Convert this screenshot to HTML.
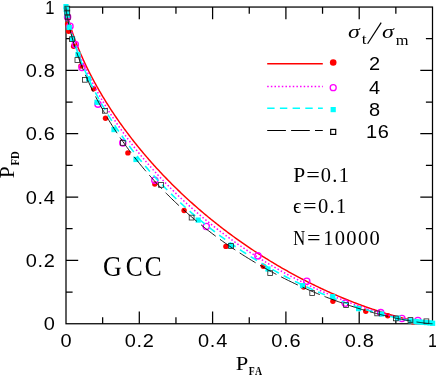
<!DOCTYPE html>
<html><head><meta charset="utf-8"><title>plot</title>
<style>html,body{margin:0;padding:0;background:#fff;}svg{display:block;will-change:transform;}text{font-family:"Liberation Sans",sans-serif;fill:#000;}.s{font-family:"Liberation Serif",serif;}</style></head><body>
<svg width="436" height="376" viewBox="0 0 436 376">
<rect width="436" height="376" fill="#fff"/>
<g stroke="#000" stroke-width="1.25" fill="none">
<rect x="66.0" y="7.05" width="366.5" height="316.7"/>
<path d="M102.65,323.75 v-6.6 M102.65,7.05 v6.6 M66.0,292.08 h6.6 M432.5,292.08 h-6.6 M139.30,323.75 v-12.2 M139.30,7.05 v12.2 M66.0,260.41 h12.2 M432.5,260.41 h-12.2 M175.95,323.75 v-6.6 M175.95,7.05 v6.6 M66.0,228.74 h6.6 M432.5,228.74 h-6.6 M212.60,323.75 v-12.2 M212.60,7.05 v12.2 M66.0,197.07 h12.2 M432.5,197.07 h-12.2 M249.25,323.75 v-6.6 M249.25,7.05 v6.6 M66.0,165.40 h6.6 M432.5,165.40 h-6.6 M285.90,323.75 v-12.2 M285.90,7.05 v12.2 M66.0,133.73 h12.2 M432.5,133.73 h-12.2 M322.55,323.75 v-6.6 M322.55,7.05 v6.6 M66.0,102.06 h6.6 M432.5,102.06 h-6.6 M359.20,323.75 v-12.2 M359.20,7.05 v12.2 M66.0,70.39 h12.2 M432.5,70.39 h-12.2 M395.85,323.75 v-6.6 M395.85,7.05 v6.6 M66.0,38.72 h6.6 M432.5,38.72 h-6.6"/>
</g>
<text transform="translate(66.40,346.90) scale(1.11,1)" font-family="Liberation Sans, sans-serif" font-size="18" text-anchor="middle" letter-spacing="0.65">0</text>
<text transform="translate(55.60,330.35) scale(1.11,1)" font-family="Liberation Sans, sans-serif" font-size="18" text-anchor="end" letter-spacing="0.65">0</text>
<text transform="translate(139.70,346.90) scale(1.11,1)" font-family="Liberation Sans, sans-serif" font-size="18" text-anchor="middle" letter-spacing="0.65">0.2</text>
<text transform="translate(55.60,267.01) scale(1.11,1)" font-family="Liberation Sans, sans-serif" font-size="18" text-anchor="end" letter-spacing="0.65">0.2</text>
<text transform="translate(213.00,346.90) scale(1.11,1)" font-family="Liberation Sans, sans-serif" font-size="18" text-anchor="middle" letter-spacing="0.65">0.4</text>
<text transform="translate(55.60,203.67) scale(1.11,1)" font-family="Liberation Sans, sans-serif" font-size="18" text-anchor="end" letter-spacing="0.65">0.4</text>
<text transform="translate(286.30,346.90) scale(1.11,1)" font-family="Liberation Sans, sans-serif" font-size="18" text-anchor="middle" letter-spacing="0.65">0.6</text>
<text transform="translate(55.60,140.33) scale(1.11,1)" font-family="Liberation Sans, sans-serif" font-size="18" text-anchor="end" letter-spacing="0.65">0.6</text>
<text transform="translate(359.60,346.90) scale(1.11,1)" font-family="Liberation Sans, sans-serif" font-size="18" text-anchor="middle" letter-spacing="0.65">0.8</text>
<text transform="translate(55.60,76.99) scale(1.11,1)" font-family="Liberation Sans, sans-serif" font-size="18" text-anchor="end" letter-spacing="0.65">0.8</text>
<text transform="translate(432.90,346.90) scale(0.92,1)" font-family="Liberation Sans, sans-serif" font-size="18" text-anchor="middle" letter-spacing="0.65">1</text>
<text transform="translate(55.00,13.65) scale(0.92,1)" font-family="Liberation Sans, sans-serif" font-size="18" text-anchor="end" letter-spacing="0.65">1</text>
<text transform="translate(235.75,370) scale(1.146,1)" class="s" font-size="19.7">P</text>
<text transform="translate(248.83,375.0) scale(0.747,1)" class="s" font-weight="bold" font-size="13" letter-spacing="1.2">FA</text>
<g transform="translate(0,0) rotate(-90)">
<text transform="translate(-178.21,13.8) scale(1.051,1)" class="s" font-size="20.3">P</text>
<text transform="translate(-165.58,19.1) scale(0.820,1)" class="s" font-weight="bold" font-size="13">FD</text>
</g>
<text transform="translate(293.18,181.8) scale(1.077,1)" class="s" font-size="20">P</text>
<text transform="translate(306.20,181.8) scale(1.203,1)" class="s" font-size="20">=</text>
<text transform="translate(320.72,181.8) scale(1.022,1)" class="s" font-size="20" letter-spacing="1.3">0.1</text>
<text transform="translate(293.02,213.2) scale(0.955,1)" class="s" font-size="21.5">ϵ</text>
<text transform="translate(302.90,213) scale(1.203,1)" class="s" font-size="20">=</text>
<text transform="translate(317.92,213) scale(1.026,1)" class="s" font-size="20" letter-spacing="1.3">0.1</text>
<text transform="translate(293.32,244.8) scale(0.828,1)" class="s" font-size="20">N</text>
<text transform="translate(307.10,244.8) scale(1.203,1)" class="s" font-size="20">=</text>
<text transform="translate(323.20,244.8) scale(1.025,1)" class="s" font-size="20" letter-spacing="1.3">10000</text>
<text transform="translate(102.93,276.2) scale(0.893,1)" class="s" font-size="29.3">G</text>
<text transform="translate(125.66,276.2) scale(0.867,1)" class="s" font-size="29.3">C</text>
<text transform="translate(144.66,276.2) scale(0.867,1)" class="s" font-size="29.3">C</text>
<text transform="translate(348.09,38.3) scale(1.268,1)" class="s" font-style="italic" font-size="18.8">σ</text>
<text transform="translate(361.83,43.9) scale(1.170,1)" class="s" font-size="15">t</text>
<path d="M367.6,43.8 L381.2,22.6" stroke="#000" stroke-width="1.2"/>
<text transform="translate(381.88,38.3) scale(1.278,1)" class="s" font-style="italic" font-size="18.8">σ</text>
<text transform="translate(395.65,45.0) scale(1.176,1)" class="s" font-size="14">m</text>
<text transform="translate(374.80,69.60) scale(1.11,1)" font-family="Liberation Sans, sans-serif" font-size="18" text-anchor="middle" letter-spacing="0.65">2</text>
<text transform="translate(374.80,94.20) scale(1.11,1)" font-family="Liberation Sans, sans-serif" font-size="18" text-anchor="middle" letter-spacing="0.65">4</text>
<text transform="translate(374.80,116.00) scale(1.11,1)" font-family="Liberation Sans, sans-serif" font-size="18" text-anchor="middle" letter-spacing="0.65">8</text>
<text transform="translate(377.80,138.00) scale(1.11,1)" font-family="Liberation Sans, sans-serif" font-size="18" text-anchor="middle" letter-spacing="0.65">16</text>
<path d="M267.2,63.7 H322.8" stroke="#ff0000" stroke-width="1.45" fill="none"/>
<path d="M267.2,86.4 H322.8" stroke="#ff00ff" stroke-width="1.5" stroke-dasharray="1.5 2.15" fill="none"/>
<path d="M267.2,108.3 H322.8" stroke="#00ffff" stroke-width="1.6" stroke-dasharray="7.4 5.3" fill="none"/>
<path d="M267.2,130.5 H322.8" stroke="#000000" stroke-width="1.15" stroke-dasharray="18.7 5.2" fill="none"/>
<path d="M66.00,7.05 L66.00,7.05 L66.01,7.14 L66.02,7.32 L66.05,7.59 L66.09,7.92 L66.14,8.30 L66.20,8.73 L66.28,9.21 L66.36,9.73 L66.46,10.30 L66.57,10.89 L66.69,11.53 L66.82,12.19 L66.96,12.89 L67.11,13.61 L67.28,14.37 L67.45,15.15 L67.64,15.96 L67.84,16.79 L68.05,17.64 L68.27,18.52 L68.50,19.42 L68.74,20.34 L69.00,21.29 L69.26,22.25 L69.54,23.23 L69.83,24.23 L70.13,25.24 L70.44,26.28 L70.76,27.33 L71.09,28.39 L71.43,29.47 L71.79,30.57 L72.15,31.68 L72.53,32.80 L72.91,33.94 L73.31,35.09 L73.72,36.26 L74.14,37.43 L74.57,38.62 L75.01,39.82 L75.47,41.03 L75.93,42.25 L76.40,43.49 L76.89,44.73 L77.38,45.98 L77.89,47.24 L78.41,48.51 L78.93,49.79 L79.47,51.08 L80.02,52.38 L80.58,53.68 L81.15,54.99 L81.73,56.31 L82.32,57.64 L82.92,58.97 L83.53,60.31 L84.15,61.66 L84.78,63.01 L85.42,64.37 L86.07,65.74 L86.73,67.11 L87.40,68.48 L88.09,69.86 L88.78,71.25 L89.48,72.64 L90.19,74.03 L90.91,75.43 L91.64,76.83 L92.39,78.24 L93.14,79.65 L93.90,81.06 L94.67,82.48 L95.45,83.90 L96.24,85.32 L97.03,86.75 L97.84,88.18 L98.66,89.61 L99.49,91.04 L100.32,92.47 L101.17,93.91 L102.02,95.35 L102.89,96.79 L103.76,98.23 L104.64,99.67 L105.53,101.12 L106.43,102.56 L107.34,104.01 L108.26,105.45 L109.18,106.90 L110.12,108.35 L111.06,109.79 L112.01,111.24 L112.97,112.69 L113.94,114.13 L114.92,115.58 L115.90,117.03 L116.90,118.47 L117.90,119.92 L118.91,121.36 L119.93,122.81 L120.95,124.25 L121.99,125.69 L123.03,127.13 L124.08,128.57 L125.14,130.01 L126.20,131.44 L127.28,132.88 L128.36,134.31 L129.45,135.74 L130.54,137.17 L131.64,138.60 L132.75,140.02 L133.87,141.44 L135.00,142.86 L136.13,144.28 L137.27,145.69 L138.41,147.10 L139.56,148.51 L140.72,149.92 L141.89,151.32 L143.06,152.72 L144.24,154.12 L145.43,155.51 L146.62,156.90 L147.82,158.29 L149.02,159.67 L150.23,161.05 L151.45,162.43 L152.67,163.80 L153.90,165.17 L155.14,166.54 L156.38,167.90 L157.62,169.25 L158.88,170.61 L160.14,171.96 L161.40,173.30 L162.67,174.64 L163.94,175.98 L165.22,177.31 L166.51,178.63 L167.80,179.96 L169.09,181.27 L170.39,182.59 L171.70,183.90 L173.01,185.20 L174.32,186.50 L175.64,187.79 L176.96,189.08 L178.29,190.36 L179.62,191.64 L180.96,192.91 L182.30,194.18 L183.65,195.45 L185.00,196.70 L186.35,197.96 L187.71,199.20 L189.07,200.44 L190.43,201.68 L191.80,202.91 L193.17,204.13 L194.55,205.35 L195.93,206.57 L197.31,207.77 L198.69,208.98 L200.08,210.17 L201.47,211.36 L202.87,212.55 L204.26,213.72 L205.66,214.90 L207.07,216.06 L208.47,217.22 L209.88,218.38 L211.29,219.52 L212.70,220.67 L214.12,221.80 L215.54,222.93 L216.96,224.05 L218.38,225.17 L219.80,226.28 L221.22,227.39 L222.65,228.48 L224.08,229.57 L225.51,230.66 L226.94,231.74 L228.37,232.81 L229.81,233.88 L231.24,234.93 L232.68,235.99 L234.12,237.03 L235.56,238.07 L236.99,239.10 L238.43,240.13 L239.88,241.15 L241.32,242.16 L242.76,243.17 L244.20,244.17 L245.64,245.16 L247.09,246.15 L248.53,247.13 L249.97,248.10 L251.41,249.06 L252.86,250.02 L254.30,250.98 L255.74,251.92 L257.18,252.86 L258.62,253.79 L260.07,254.72 L261.51,255.63 L262.94,256.55 L264.38,257.45 L265.82,258.35 L267.26,259.24 L268.69,260.12 L270.13,261.00 L271.56,261.87 L272.99,262.73 L274.42,263.59 L275.85,264.44 L277.28,265.28 L278.70,266.11 L280.12,266.94 L281.54,267.76 L282.96,268.58 L284.38,269.39 L285.80,270.19 L287.21,270.98 L288.62,271.77 L290.03,272.55 L291.43,273.32 L292.84,274.09 L294.24,274.85 L295.63,275.60 L297.03,276.35 L298.42,277.09 L299.81,277.82 L301.19,278.54 L302.57,279.26 L303.95,279.97 L305.33,280.68 L306.70,281.38 L308.07,282.07 L309.43,282.75 L310.79,283.43 L312.15,284.10 L313.50,284.77 L314.85,285.42 L316.20,286.07 L317.54,286.72 L318.88,287.36 L320.21,287.99 L321.54,288.61 L322.86,289.23 L324.18,289.84 L325.49,290.44 L326.80,291.04 L328.11,291.63 L329.41,292.22 L330.70,292.80 L331.99,293.37 L333.28,293.93 L334.56,294.49 L335.83,295.04 L337.10,295.59 L338.36,296.13 L339.62,296.66 L340.87,297.19 L342.12,297.71 L343.36,298.22 L344.60,298.73 L345.83,299.23 L347.05,299.73 L348.27,300.22 L349.48,300.70 L350.68,301.17 L351.88,301.65 L353.07,302.11 L354.26,302.57 L355.44,303.02 L356.61,303.47 L357.78,303.91 L358.94,304.34 L360.09,304.77 L361.23,305.19 L362.37,305.61 L363.50,306.02 L364.63,306.42 L365.75,306.82 L366.86,307.21 L367.96,307.60 L369.05,307.98 L370.14,308.36 L371.22,308.73 L372.30,309.09 L373.36,309.45 L374.42,309.81 L375.47,310.15 L376.51,310.50 L377.55,310.83 L378.57,311.17 L379.59,311.49 L380.60,311.81 L381.60,312.13 L382.60,312.44 L383.58,312.74 L384.56,313.04 L385.53,313.34 L386.49,313.63 L387.44,313.91 L388.38,314.19 L389.32,314.47 L390.24,314.73 L391.16,315.00 L392.07,315.26 L392.97,315.51 L393.86,315.76 L394.74,316.01 L395.61,316.25 L396.48,316.48 L397.33,316.71 L398.18,316.94 L399.01,317.16 L399.84,317.38 L400.66,317.59 L401.47,317.80 L402.26,318.00 L403.05,318.20 L403.83,318.39 L404.60,318.58 L405.36,318.77 L406.11,318.95 L406.86,319.13 L407.59,319.30 L408.31,319.47 L409.02,319.64 L409.72,319.80 L410.41,319.95 L411.10,320.11 L411.77,320.26 L412.43,320.40 L413.08,320.54 L413.72,320.68 L414.35,320.81 L414.97,320.94 L415.58,321.07 L416.18,321.19 L416.77,321.31 L417.35,321.43 L417.92,321.54 L418.48,321.65 L419.03,321.75 L419.57,321.86 L420.09,321.95 L420.61,322.05 L421.12,322.14 L421.61,322.23 L422.10,322.32 L422.57,322.40 L423.03,322.48 L423.49,322.56 L423.93,322.63 L424.36,322.70 L424.78,322.77 L425.19,322.83 L425.59,322.90 L425.97,322.96 L426.35,323.01 L426.71,323.07 L427.07,323.12 L427.41,323.17 L427.74,323.22 L428.06,323.26 L428.37,323.30 L428.67,323.34 L428.96,323.38 L429.24,323.42 L429.50,323.45 L429.76,323.48 L430.00,323.51 L430.23,323.54 L430.45,323.56 L430.66,323.59 L430.86,323.61 L431.05,323.63 L431.22,323.64 L431.39,323.66 L431.54,323.68 L431.68,323.69 L431.81,323.70 L431.93,323.71 L432.04,323.72 L432.14,323.73 L432.22,323.73 L432.30,323.74 L432.36,323.74 L432.41,323.75 L432.45,323.75 L432.48,323.75 L432.49,323.75 L432.50,323.75 L432.50,323.75" stroke="#ff0000" stroke-width="1.45" fill="none" stroke-linejoin="round"/>
<circle cx="67.6" cy="24" r="2.7" fill="#ff0000"/><circle cx="68.6" cy="31.3" r="2.7" fill="#ff0000"/><circle cx="73.6" cy="46.3" r="2.7" fill="#ff0000"/><circle cx="81" cy="66" r="2.7" fill="#ff0000"/><circle cx="93.6" cy="88.8" r="2.7" fill="#ff0000"/><circle cx="105.5" cy="118.3" r="2.7" fill="#ff0000"/><circle cx="127.9" cy="152.9" r="2.7" fill="#ff0000"/><circle cx="154.8" cy="184" r="2.7" fill="#ff0000"/><circle cx="184.1" cy="210.5" r="2.7" fill="#ff0000"/><circle cx="225.9" cy="246.4" r="2.7" fill="#ff0000"/><circle cx="263.3" cy="266.2" r="2.7" fill="#ff0000"/><circle cx="303.6" cy="287.1" r="2.7" fill="#ff0000"/><circle cx="332.9" cy="301.3" r="2.7" fill="#ff0000"/><circle cx="365.8" cy="311.2" r="2.7" fill="#ff0000"/><circle cx="387.8" cy="315.8" r="2.7" fill="#ff0000"/><circle cx="413.1" cy="321.9" r="2.7" fill="#ff0000"/>
<circle cx="333.2" cy="62.5" r="3.3" fill="#ff0000"/>
<path d="M66.00,7.05 L66.00,7.05 L66.01,7.15 L66.02,7.37 L66.05,7.67 L66.09,8.04 L66.14,8.47 L66.20,8.95 L66.28,9.49 L66.36,10.07 L66.46,10.69 L66.57,11.34 L66.69,12.04 L66.82,12.77 L66.96,13.53 L67.11,14.32 L67.28,15.15 L67.45,15.99 L67.64,16.87 L67.84,17.77 L68.05,18.70 L68.27,19.65 L68.50,20.62 L68.74,21.61 L69.00,22.62 L69.26,23.65 L69.54,24.71 L69.83,25.78 L70.13,26.86 L70.44,27.97 L70.76,29.09 L71.09,30.22 L71.43,31.38 L71.79,32.54 L72.15,33.72 L72.53,34.92 L72.91,36.12 L73.31,37.34 L73.72,38.57 L74.14,39.82 L74.57,41.07 L75.01,42.34 L75.47,43.62 L75.93,44.90 L76.40,46.20 L76.89,47.51 L77.38,48.82 L77.89,50.15 L78.41,51.48 L78.93,52.82 L79.47,54.17 L80.02,55.53 L80.58,56.89 L81.15,58.26 L81.73,59.64 L82.32,61.02 L82.92,62.41 L83.53,63.81 L84.15,65.21 L84.78,66.62 L85.42,68.03 L86.07,69.45 L86.73,70.87 L87.40,72.30 L88.09,73.73 L88.78,75.16 L89.48,76.60 L90.19,78.04 L90.91,79.49 L91.64,80.94 L92.39,82.39 L93.14,83.84 L93.90,85.30 L94.67,86.76 L95.45,88.22 L96.24,89.69 L97.03,91.15 L97.84,92.62 L98.66,94.09 L99.49,95.56 L100.32,97.03 L101.17,98.51 L102.02,99.98 L102.89,101.46 L103.76,102.93 L104.64,104.41 L105.53,105.88 L106.43,107.36 L107.34,108.84 L108.26,110.31 L109.18,111.79 L110.12,113.26 L111.06,114.74 L112.01,116.21 L112.97,117.68 L113.94,119.16 L114.92,120.63 L115.90,122.10 L116.90,123.57 L117.90,125.04 L118.91,126.50 L119.93,127.97 L120.95,129.43 L121.99,130.89 L123.03,132.35 L124.08,133.80 L125.14,135.26 L126.20,136.71 L127.28,138.16 L128.36,139.60 L129.45,141.05 L130.54,142.49 L131.64,143.93 L132.75,145.36 L133.87,146.80 L135.00,148.23 L136.13,149.65 L137.27,151.08 L138.41,152.50 L139.56,153.91 L140.72,155.32 L141.89,156.73 L143.06,158.14 L144.24,159.54 L145.43,160.94 L146.62,162.33 L147.82,163.72 L149.02,165.10 L150.23,166.49 L151.45,167.86 L152.67,169.23 L153.90,170.60 L155.14,171.97 L156.38,173.33 L157.62,174.68 L158.88,176.03 L160.14,177.37 L161.40,178.71 L162.67,180.05 L163.94,181.38 L165.22,182.70 L166.51,184.02 L167.80,185.34 L169.09,186.65 L170.39,187.95 L171.70,189.25 L173.01,190.55 L174.32,191.83 L175.64,193.12 L176.96,194.39 L178.29,195.67 L179.62,196.93 L180.96,198.19 L182.30,199.45 L183.65,200.70 L185.00,201.94 L186.35,203.18 L187.71,204.41 L189.07,205.63 L190.43,206.85 L191.80,208.07 L193.17,209.27 L194.55,210.47 L195.93,211.67 L197.31,212.86 L198.69,214.04 L200.08,215.22 L201.47,216.39 L202.87,217.55 L204.26,218.71 L205.66,219.86 L207.07,221.01 L208.47,222.14 L209.88,223.28 L211.29,224.40 L212.70,225.52 L214.12,226.63 L215.54,227.74 L216.96,228.84 L218.38,229.93 L219.80,231.02 L221.22,232.10 L222.65,233.17 L224.08,234.24 L225.51,235.29 L226.94,236.35 L228.37,237.39 L229.81,238.43 L231.24,239.46 L232.68,240.49 L234.12,241.51 L235.56,242.52 L236.99,243.52 L238.43,244.52 L239.88,245.51 L241.32,246.50 L242.76,247.47 L244.20,248.44 L245.64,249.41 L247.09,250.36 L248.53,251.31 L249.97,252.26 L251.41,253.19 L252.86,254.12 L254.30,255.04 L255.74,255.96 L257.18,256.86 L258.62,257.77 L260.07,258.66 L261.51,259.55 L262.94,260.43 L264.38,261.30 L265.82,262.16 L267.26,263.02 L268.69,263.87 L270.13,264.72 L271.56,265.56 L272.99,266.39 L274.42,267.21 L275.85,268.03 L277.28,268.84 L278.70,269.64 L280.12,270.44 L281.54,271.23 L282.96,272.01 L284.38,272.78 L285.80,273.55 L287.21,274.31 L288.62,275.07 L290.03,275.81 L291.43,276.55 L292.84,277.29 L294.24,278.01 L295.63,278.73 L297.03,279.45 L298.42,280.15 L299.81,280.85 L301.19,281.54 L302.57,282.23 L303.95,282.91 L305.33,283.58 L306.70,284.25 L308.07,284.90 L309.43,285.56 L310.79,286.20 L312.15,286.84 L313.50,287.47 L314.85,288.09 L316.20,288.71 L317.54,289.32 L318.88,289.93 L320.21,290.53 L321.54,291.12 L322.86,291.71 L324.18,292.28 L325.49,292.86 L326.80,293.42 L328.11,293.98 L329.41,294.53 L330.70,295.08 L331.99,295.62 L333.28,296.15 L334.56,296.68 L335.83,297.20 L337.10,297.72 L338.36,298.23 L339.62,298.73 L340.87,299.22 L342.12,299.71 L343.36,300.20 L344.60,300.67 L345.83,301.15 L347.05,301.61 L348.27,302.07 L349.48,302.52 L350.68,302.97 L351.88,303.41 L353.07,303.85 L354.26,304.28 L355.44,304.70 L356.61,305.12 L357.78,305.53 L358.94,305.94 L360.09,306.34 L361.23,306.73 L362.37,307.12 L363.50,307.50 L364.63,307.88 L365.75,308.25 L366.86,308.62 L367.96,308.98 L369.05,309.33 L370.14,309.68 L371.22,310.03 L372.30,310.37 L373.36,310.70 L374.42,311.03 L375.47,311.35 L376.51,311.67 L377.55,311.98 L378.57,312.29 L379.59,312.59 L380.60,312.89 L381.60,313.18 L382.60,313.47 L383.58,313.75 L384.56,314.03 L385.53,314.30 L386.49,314.57 L387.44,314.83 L388.38,315.09 L389.32,315.34 L390.24,315.59 L391.16,315.83 L392.07,316.07 L392.97,316.30 L393.86,316.53 L394.74,316.76 L395.61,316.98 L396.48,317.19 L397.33,317.40 L398.18,317.61 L399.01,317.81 L399.84,318.01 L400.66,318.21 L401.47,318.40 L402.26,318.58 L403.05,318.76 L403.83,318.94 L404.60,319.11 L405.36,319.28 L406.11,319.45 L406.86,319.61 L407.59,319.77 L408.31,319.92 L409.02,320.07 L409.72,320.22 L410.41,320.36 L411.10,320.50 L411.77,320.63 L412.43,320.76 L413.08,320.89 L413.72,321.02 L414.35,321.14 L414.97,321.25 L415.58,321.37 L416.18,321.48 L416.77,321.59 L417.35,321.69 L417.92,321.79 L418.48,321.89 L419.03,321.98 L419.57,322.07 L420.09,322.16 L420.61,322.25 L421.12,322.33 L421.61,322.41 L422.10,322.49 L422.57,322.56 L423.03,322.63 L423.49,322.70 L423.93,322.77 L424.36,322.83 L424.78,322.89 L425.19,322.95 L425.59,323.00 L425.97,323.06 L426.35,323.11 L426.71,323.15 L427.07,323.20 L427.41,323.24 L427.74,323.29 L428.06,323.33 L428.37,323.36 L428.67,323.40 L428.96,323.43 L429.24,323.46 L429.50,323.49 L429.76,323.52 L430.00,323.54 L430.23,323.57 L430.45,323.59 L430.66,323.61 L430.86,323.63 L431.05,323.64 L431.22,323.66 L431.39,323.67 L431.54,323.69 L431.68,323.70 L431.81,323.71 L431.93,323.72 L432.04,323.72 L432.14,323.73 L432.22,323.74 L432.30,323.74 L432.36,323.74 L432.41,323.75 L432.45,323.75 L432.48,323.75 L432.49,323.75 L432.50,323.75 L432.50,323.75" stroke="#ff00ff" stroke-width="1.5" stroke-dasharray="1.5 2.15" fill="none" stroke-linejoin="round"/>
<circle cx="67.6" cy="17" r="3.1" fill="none" stroke="#ff00ff" stroke-width="1.35"/><circle cx="70" cy="26.3" r="3.1" fill="none" stroke="#ff00ff" stroke-width="1.35"/><circle cx="75.3" cy="44.5" r="3.1" fill="none" stroke="#ff00ff" stroke-width="1.35"/><circle cx="82" cy="67.5" r="3.1" fill="none" stroke="#ff00ff" stroke-width="1.35"/><circle cx="98" cy="104.2" r="3.1" fill="none" stroke="#ff00ff" stroke-width="1.35"/><circle cx="122.8" cy="142.9" r="3.1" fill="none" stroke="#ff00ff" stroke-width="1.35"/><circle cx="154.8" cy="180.2" r="3.1" fill="none" stroke="#ff00ff" stroke-width="1.35"/><circle cx="206.3" cy="226.5" r="3.1" fill="none" stroke="#ff00ff" stroke-width="1.35"/><circle cx="257.9" cy="255.9" r="3.1" fill="none" stroke="#ff00ff" stroke-width="1.35"/><circle cx="306.8" cy="281.3" r="3.1" fill="none" stroke="#ff00ff" stroke-width="1.35"/><circle cx="345.3" cy="303.3" r="3.1" fill="none" stroke="#ff00ff" stroke-width="1.35"/><circle cx="380.7" cy="312.6" r="3.1" fill="none" stroke="#ff00ff" stroke-width="1.35"/><circle cx="401.9" cy="318.4" r="3.1" fill="none" stroke="#ff00ff" stroke-width="1.35"/><circle cx="417.9" cy="320.5" r="3.1" fill="none" stroke="#ff00ff" stroke-width="1.35"/>
<circle cx="333.2" cy="87.7" r="3" fill="none" stroke="#ff00ff" stroke-width="1.3"/>
<path d="M66.00,7.05 L66.00,7.05 L66.01,7.17 L66.02,7.41 L66.05,7.76 L66.09,8.17 L66.14,8.65 L66.20,9.19 L66.28,9.78 L66.36,10.42 L66.46,11.10 L66.57,11.83 L66.69,12.59 L66.82,13.39 L66.96,14.22 L67.11,15.08 L67.28,15.97 L67.45,16.89 L67.64,17.84 L67.84,18.81 L68.05,19.81 L68.27,20.83 L68.50,21.87 L68.74,22.94 L69.00,24.02 L69.26,25.13 L69.54,26.25 L69.83,27.39 L70.13,28.55 L70.44,29.73 L70.76,30.92 L71.09,32.13 L71.43,33.35 L71.79,34.59 L72.15,35.84 L72.53,37.10 L72.91,38.38 L73.31,39.66 L73.72,40.96 L74.14,42.28 L74.57,43.60 L75.01,44.93 L75.47,46.27 L75.93,47.62 L76.40,48.98 L76.89,50.35 L77.38,51.73 L77.89,53.12 L78.41,54.51 L78.93,55.91 L79.47,57.32 L80.02,58.74 L80.58,60.16 L81.15,61.59 L81.73,63.02 L82.32,64.46 L82.92,65.91 L83.53,67.36 L84.15,68.81 L84.78,70.27 L85.42,71.73 L86.07,73.20 L86.73,74.67 L87.40,76.15 L88.09,77.63 L88.78,79.11 L89.48,80.60 L90.19,82.09 L90.91,83.58 L91.64,85.07 L92.39,86.56 L93.14,88.06 L93.90,89.56 L94.67,91.06 L95.45,92.56 L96.24,94.07 L97.03,95.57 L97.84,97.08 L98.66,98.58 L99.49,100.09 L100.32,101.60 L101.17,103.10 L102.02,104.61 L102.89,106.12 L103.76,107.62 L104.64,109.13 L105.53,110.64 L106.43,112.14 L107.34,113.65 L108.26,115.15 L109.18,116.65 L110.12,118.15 L111.06,119.65 L112.01,121.15 L112.97,122.65 L113.94,124.14 L114.92,125.63 L115.90,127.13 L116.90,128.61 L117.90,130.10 L118.91,131.59 L119.93,133.07 L120.95,134.55 L121.99,136.02 L123.03,137.50 L124.08,138.97 L125.14,140.44 L126.20,141.90 L127.28,143.36 L128.36,144.82 L129.45,146.28 L130.54,147.73 L131.64,149.18 L132.75,150.62 L133.87,152.06 L135.00,153.50 L136.13,154.93 L137.27,156.36 L138.41,157.78 L139.56,159.20 L140.72,160.62 L141.89,162.03 L143.06,163.44 L144.24,164.84 L145.43,166.24 L146.62,167.64 L147.82,169.03 L149.02,170.41 L150.23,171.79 L151.45,173.16 L152.67,174.53 L153.90,175.90 L155.14,177.26 L156.38,178.61 L157.62,179.96 L158.88,181.31 L160.14,182.64 L161.40,183.98 L162.67,185.30 L163.94,186.63 L165.22,187.94 L166.51,189.25 L167.80,190.56 L169.09,191.86 L170.39,193.15 L171.70,194.44 L173.01,195.72 L174.32,197.00 L175.64,198.27 L176.96,199.53 L178.29,200.79 L179.62,202.04 L180.96,203.29 L182.30,204.53 L183.65,205.76 L185.00,206.99 L186.35,208.21 L187.71,209.42 L189.07,210.63 L190.43,211.83 L191.80,213.03 L193.17,214.22 L194.55,215.40 L195.93,216.58 L197.31,217.75 L198.69,218.91 L200.08,220.06 L201.47,221.21 L202.87,222.36 L204.26,223.49 L205.66,224.62 L207.07,225.74 L208.47,226.86 L209.88,227.97 L211.29,229.07 L212.70,230.17 L214.12,231.25 L215.54,232.33 L216.96,233.41 L218.38,234.48 L219.80,235.54 L221.22,236.59 L222.65,237.64 L224.08,238.68 L225.51,239.71 L226.94,240.74 L228.37,241.76 L229.81,242.77 L231.24,243.77 L232.68,244.77 L234.12,245.76 L235.56,246.74 L236.99,247.72 L238.43,248.69 L239.88,249.65 L241.32,250.61 L242.76,251.56 L244.20,252.50 L245.64,253.43 L247.09,254.36 L248.53,255.28 L249.97,256.19 L251.41,257.10 L252.86,257.99 L254.30,258.88 L255.74,259.77 L257.18,260.65 L258.62,261.52 L260.07,262.38 L261.51,263.23 L262.94,264.08 L264.38,264.92 L265.82,265.76 L267.26,266.59 L268.69,267.41 L270.13,268.22 L271.56,269.03 L272.99,269.82 L274.42,270.62 L275.85,271.40 L277.28,272.18 L278.70,272.95 L280.12,273.71 L281.54,274.47 L282.96,275.22 L284.38,275.96 L285.80,276.70 L287.21,277.43 L288.62,278.15 L290.03,278.87 L291.43,279.57 L292.84,280.28 L294.24,280.97 L295.63,281.66 L297.03,282.34 L298.42,283.01 L299.81,283.68 L301.19,284.34 L302.57,284.99 L303.95,285.64 L305.33,286.28 L306.70,286.91 L308.07,287.54 L309.43,288.16 L310.79,288.77 L312.15,289.38 L313.50,289.98 L314.85,290.57 L316.20,291.16 L317.54,291.74 L318.88,292.31 L320.21,292.88 L321.54,293.44 L322.86,294.00 L324.18,294.55 L325.49,295.09 L326.80,295.62 L328.11,296.15 L329.41,296.67 L330.70,297.19 L331.99,297.70 L333.28,298.20 L334.56,298.70 L335.83,299.19 L337.10,299.68 L338.36,300.16 L339.62,300.63 L340.87,301.10 L342.12,301.56 L343.36,302.01 L344.60,302.46 L345.83,302.90 L347.05,303.34 L348.27,303.77 L349.48,304.20 L350.68,304.62 L351.88,305.03 L353.07,305.44 L354.26,305.84 L355.44,306.24 L356.61,306.63 L357.78,307.01 L358.94,307.39 L360.09,307.77 L361.23,308.13 L362.37,308.50 L363.50,308.86 L364.63,309.21 L365.75,309.55 L366.86,309.90 L367.96,310.23 L369.05,310.56 L370.14,310.89 L371.22,311.21 L372.30,311.52 L373.36,311.83 L374.42,312.14 L375.47,312.44 L376.51,312.73 L377.55,313.02 L378.57,313.31 L379.59,313.59 L380.60,313.86 L381.60,314.13 L382.60,314.40 L383.58,314.66 L384.56,314.91 L385.53,315.16 L386.49,315.41 L387.44,315.65 L388.38,315.89 L389.32,316.12 L390.24,316.35 L391.16,316.58 L392.07,316.80 L392.97,317.01 L393.86,317.22 L394.74,317.43 L395.61,317.63 L396.48,317.83 L397.33,318.02 L398.18,318.21 L399.01,318.40 L399.84,318.58 L400.66,318.76 L401.47,318.93 L402.26,319.10 L403.05,319.26 L403.83,319.43 L404.60,319.58 L405.36,319.74 L406.11,319.89 L406.86,320.04 L407.59,320.18 L408.31,320.32 L409.02,320.46 L409.72,320.59 L410.41,320.72 L411.10,320.84 L411.77,320.97 L412.43,321.08 L413.08,321.20 L413.72,321.31 L414.35,321.42 L414.97,321.53 L415.58,321.63 L416.18,321.73 L416.77,321.83 L417.35,321.92 L417.92,322.01 L418.48,322.10 L419.03,322.18 L419.57,322.27 L420.09,322.35 L420.61,322.42 L421.12,322.50 L421.61,322.57 L422.10,322.64 L422.57,322.70 L423.03,322.77 L423.49,322.83 L423.93,322.88 L424.36,322.94 L424.78,322.99 L425.19,323.05 L425.59,323.10 L425.97,323.14 L426.35,323.19 L426.71,323.23 L427.07,323.27 L427.41,323.31 L427.74,323.35 L428.06,323.38 L428.37,323.41 L428.67,323.44 L428.96,323.47 L429.24,323.50 L429.50,323.53 L429.76,323.55 L430.00,323.57 L430.23,323.59 L430.45,323.61 L430.66,323.63 L430.86,323.64 L431.05,323.66 L431.22,323.67 L431.39,323.69 L431.54,323.70 L431.68,323.71 L431.81,323.71 L431.93,323.72 L432.04,323.73 L432.14,323.73 L432.22,323.74 L432.30,323.74 L432.36,323.74 L432.41,323.75 L432.45,323.75 L432.48,323.75 L432.49,323.75 L432.50,323.75 L432.50,323.75" stroke="#00ffff" stroke-width="1.6" stroke-dasharray="7.4 5.3" stroke-dashoffset="10.83" fill="none" stroke-linejoin="round"/>
<rect x="63.40" y="4.00" width="5.2" height="5.2" fill="#00ffff"/><rect x="63.60" y="6.90" width="5.2" height="5.2" fill="#00ffff"/><rect x="64.10" y="9.90" width="5.2" height="5.2" fill="#00ffff"/><rect x="64.70" y="12.60" width="5.2" height="5.2" fill="#00ffff"/><rect x="66.70" y="24.90" width="5.2" height="5.2" fill="#00ffff"/><rect x="70.00" y="36.40" width="5.2" height="5.2" fill="#00ffff"/><rect x="75.40" y="51.90" width="5.2" height="5.2" fill="#00ffff"/><rect x="86.00" y="76.20" width="5.2" height="5.2" fill="#00ffff"/><rect x="94.40" y="99.70" width="5.2" height="5.2" fill="#00ffff"/><rect x="111.40" y="127.00" width="5.2" height="5.2" fill="#00ffff"/><rect x="133.40" y="156.90" width="5.2" height="5.2" fill="#00ffff"/><rect x="195.60" y="217.50" width="5.2" height="5.2" fill="#00ffff"/><rect x="228.00" y="242.80" width="5.2" height="5.2" fill="#00ffff"/><rect x="265.40" y="266.40" width="5.2" height="5.2" fill="#00ffff"/><rect x="299.90" y="283.00" width="5.2" height="5.2" fill="#00ffff"/><rect x="330.20" y="294.10" width="5.2" height="5.2" fill="#00ffff"/><rect x="356.00" y="306.00" width="5.2" height="5.2" fill="#00ffff"/><rect x="378.90" y="311.40" width="5.2" height="5.2" fill="#00ffff"/><rect x="395.40" y="315.60" width="5.2" height="5.2" fill="#00ffff"/><rect x="408.40" y="318.20" width="5.2" height="5.2" fill="#00ffff"/><rect x="413.40" y="318.90" width="5.2" height="5.2" fill="#00ffff"/><rect x="416.90" y="319.30" width="5.2" height="5.2" fill="#00ffff"/><rect x="420.40" y="319.70" width="5.2" height="5.2" fill="#00ffff"/><rect x="423.90" y="320.00" width="5.2" height="5.2" fill="#00ffff"/><rect x="427.40" y="320.30" width="5.2" height="5.2" fill="#00ffff"/><rect x="430.00" y="320.70" width="5.2" height="5.2" fill="#00ffff"/>
<rect x="330.59999999999997" y="107.0" width="5.2" height="5.2" fill="#00ffff"/>
<path d="M66.00,7.05 L66.00,7.05 L66.01,7.18 L66.02,7.46 L66.05,7.84 L66.09,8.29 L66.14,8.82 L66.20,9.41 L66.28,10.05 L66.36,10.75 L66.46,11.49 L66.57,12.27 L66.69,13.09 L66.82,13.94 L66.96,14.83 L67.11,15.76 L67.28,16.71 L67.45,17.69 L67.64,18.70 L67.84,19.74 L68.05,20.80 L68.27,21.88 L68.50,22.99 L68.74,24.12 L69.00,25.27 L69.26,26.43 L69.54,27.62 L69.83,28.82 L70.13,30.05 L70.44,31.28 L70.76,32.54 L71.09,33.81 L71.43,35.09 L71.79,36.38 L72.15,37.69 L72.53,39.02 L72.91,40.35 L73.31,41.70 L73.72,43.05 L74.14,44.42 L74.57,45.80 L75.01,47.19 L75.47,48.58 L75.93,49.99 L76.40,51.40 L76.89,52.83 L77.38,54.26 L77.89,55.70 L78.41,57.14 L78.93,58.59 L79.47,60.05 L80.02,61.52 L80.58,62.99 L81.15,64.46 L81.73,65.94 L82.32,67.43 L82.92,68.92 L83.53,70.41 L84.15,71.91 L84.78,73.42 L85.42,74.92 L86.07,76.43 L86.73,77.95 L87.40,79.46 L88.09,80.98 L88.78,82.50 L89.48,84.02 L90.19,85.55 L90.91,87.08 L91.64,88.61 L92.39,90.14 L93.14,91.67 L93.90,93.20 L94.67,94.73 L95.45,96.27 L96.24,97.80 L97.03,99.34 L97.84,100.87 L98.66,102.41 L99.49,103.94 L100.32,105.48 L101.17,107.01 L102.02,108.54 L102.89,110.08 L103.76,111.61 L104.64,113.14 L105.53,114.67 L106.43,116.19 L107.34,117.72 L108.26,119.25 L109.18,120.77 L110.12,122.29 L111.06,123.81 L112.01,125.32 L112.97,126.84 L113.94,128.35 L114.92,129.86 L115.90,131.37 L116.90,132.87 L117.90,134.37 L118.91,135.87 L119.93,137.36 L120.95,138.85 L121.99,140.34 L123.03,141.83 L124.08,143.31 L125.14,144.79 L126.20,146.26 L127.28,147.73 L128.36,149.20 L129.45,150.66 L130.54,152.12 L131.64,153.57 L132.75,155.02 L133.87,156.47 L135.00,157.91 L136.13,159.34 L137.27,160.77 L138.41,162.20 L139.56,163.62 L140.72,165.04 L141.89,166.45 L143.06,167.86 L144.24,169.27 L145.43,170.66 L146.62,172.06 L147.82,173.44 L149.02,174.82 L150.23,176.20 L151.45,177.57 L152.67,178.94 L153.90,180.30 L155.14,181.65 L156.38,183.00 L157.62,184.34 L158.88,185.68 L160.14,187.01 L161.40,188.34 L162.67,189.66 L163.94,190.97 L165.22,192.28 L166.51,193.58 L167.80,194.88 L169.09,196.17 L170.39,197.45 L171.70,198.73 L173.01,200.00 L174.32,201.26 L175.64,202.52 L176.96,203.77 L178.29,205.02 L179.62,206.26 L180.96,207.49 L182.30,208.71 L183.65,209.93 L185.00,211.14 L186.35,212.35 L187.71,213.55 L189.07,214.74 L190.43,215.93 L191.80,217.11 L193.17,218.28 L194.55,219.44 L195.93,220.60 L197.31,221.75 L198.69,222.90 L200.08,224.03 L201.47,225.16 L202.87,226.29 L204.26,227.40 L205.66,228.51 L207.07,229.62 L208.47,230.71 L209.88,231.80 L211.29,232.88 L212.70,233.96 L214.12,235.02 L215.54,236.08 L216.96,237.14 L218.38,238.18 L219.80,239.22 L221.22,240.25 L222.65,241.28 L224.08,242.29 L225.51,243.30 L226.94,244.31 L228.37,245.30 L229.81,246.29 L231.24,247.27 L232.68,248.25 L234.12,249.21 L235.56,250.17 L236.99,251.12 L238.43,252.07 L239.88,253.01 L241.32,253.94 L242.76,254.86 L244.20,255.78 L245.64,256.69 L247.09,257.59 L248.53,258.48 L249.97,259.37 L251.41,260.25 L252.86,261.12 L254.30,261.99 L255.74,262.85 L257.18,263.70 L258.62,264.54 L260.07,265.38 L261.51,266.21 L262.94,267.03 L264.38,267.84 L265.82,268.65 L267.26,269.45 L268.69,270.25 L270.13,271.03 L271.56,271.81 L272.99,272.59 L274.42,273.35 L275.85,274.11 L277.28,274.86 L278.70,275.60 L280.12,276.34 L281.54,277.07 L282.96,277.80 L284.38,278.51 L285.80,279.22 L287.21,279.92 L288.62,280.62 L290.03,281.31 L291.43,281.99 L292.84,282.66 L294.24,283.33 L295.63,283.99 L297.03,284.65 L298.42,285.29 L299.81,285.93 L301.19,286.57 L302.57,287.20 L303.95,287.82 L305.33,288.43 L306.70,289.04 L308.07,289.64 L309.43,290.23 L310.79,290.82 L312.15,291.40 L313.50,291.97 L314.85,292.54 L316.20,293.10 L317.54,293.66 L318.88,294.21 L320.21,294.75 L321.54,295.28 L322.86,295.81 L324.18,296.34 L325.49,296.85 L326.80,297.36 L328.11,297.87 L329.41,298.36 L330.70,298.86 L331.99,299.34 L333.28,299.82 L334.56,300.29 L335.83,300.76 L337.10,301.22 L338.36,301.68 L339.62,302.13 L340.87,302.57 L342.12,303.01 L343.36,303.44 L344.60,303.87 L345.83,304.29 L347.05,304.70 L348.27,305.11 L349.48,305.51 L350.68,305.91 L351.88,306.30 L353.07,306.69 L354.26,307.07 L355.44,307.44 L356.61,307.81 L357.78,308.17 L358.94,308.53 L360.09,308.89 L361.23,309.23 L362.37,309.58 L363.50,309.91 L364.63,310.24 L365.75,310.57 L366.86,310.89 L367.96,311.21 L369.05,311.52 L370.14,311.83 L371.22,312.13 L372.30,312.42 L373.36,312.71 L374.42,313.00 L375.47,313.28 L376.51,313.56 L377.55,313.83 L378.57,314.10 L379.59,314.36 L380.60,314.62 L381.60,314.87 L382.60,315.12 L383.58,315.36 L384.56,315.60 L385.53,315.84 L386.49,316.07 L387.44,316.29 L388.38,316.51 L389.32,316.73 L390.24,316.94 L391.16,317.15 L392.07,317.36 L392.97,317.56 L393.86,317.75 L394.74,317.94 L395.61,318.13 L396.48,318.32 L397.33,318.50 L398.18,318.67 L399.01,318.84 L399.84,319.01 L400.66,319.18 L401.47,319.34 L402.26,319.50 L403.05,319.65 L403.83,319.80 L404.60,319.95 L405.36,320.09 L406.11,320.23 L406.86,320.36 L407.59,320.49 L408.31,320.62 L409.02,320.75 L409.72,320.87 L410.41,320.99 L411.10,321.11 L411.77,321.22 L412.43,321.33 L413.08,321.43 L413.72,321.54 L414.35,321.64 L414.97,321.73 L415.58,321.83 L416.18,321.92 L416.77,322.01 L417.35,322.09 L417.92,322.18 L418.48,322.26 L419.03,322.34 L419.57,322.41 L420.09,322.48 L420.61,322.55 L421.12,322.62 L421.61,322.68 L422.10,322.75 L422.57,322.81 L423.03,322.87 L423.49,322.92 L423.93,322.97 L424.36,323.02 L424.78,323.07 L425.19,323.12 L425.59,323.16 L425.97,323.21 L426.35,323.25 L426.71,323.29 L427.07,323.32 L427.41,323.36 L427.74,323.39 L428.06,323.42 L428.37,323.45 L428.67,323.48 L428.96,323.50 L429.24,323.53 L429.50,323.55 L429.76,323.57 L430.00,323.59 L430.23,323.61 L430.45,323.63 L430.66,323.64 L430.86,323.66 L431.05,323.67 L431.22,323.68 L431.39,323.69 L431.54,323.70 L431.68,323.71 L431.81,323.72 L431.93,323.73 L432.04,323.73 L432.14,323.74 L432.22,323.74 L432.30,323.74 L432.36,323.75 L432.41,323.75 L432.45,323.75 L432.48,323.75 L432.49,323.75 L432.50,323.75 L432.50,323.75" stroke="#000000" stroke-width="0.9" stroke-dasharray="18.7 5.2" stroke-dashoffset="0.93" fill="none" stroke-linejoin="round"/>
<rect x="64.90" y="6.20" width="4.8" height="4.8" fill="none" stroke="#222" stroke-width="0.8"/><rect x="64.90" y="10.20" width="4.8" height="4.8" fill="none" stroke="#222" stroke-width="0.8"/><rect x="65.30" y="14.90" width="4.8" height="4.8" fill="none" stroke="#222" stroke-width="0.8"/><rect x="69.60" y="36.80" width="4.8" height="4.8" fill="none" stroke="#222" stroke-width="0.8"/><rect x="75.00" y="57.60" width="4.8" height="4.8" fill="none" stroke="#222" stroke-width="0.8"/><rect x="82.50" y="77.40" width="4.8" height="4.8" fill="none" stroke="#222" stroke-width="0.8"/><rect x="102.50" y="108.40" width="4.8" height="4.8" fill="none" stroke="#222" stroke-width="0.8"/><rect x="120.40" y="140.50" width="4.8" height="4.8" fill="none" stroke="#222" stroke-width="0.8"/><rect x="158.60" y="182.50" width="4.8" height="4.8" fill="none" stroke="#222" stroke-width="0.8"/><rect x="189.20" y="215.20" width="4.8" height="4.8" fill="none" stroke="#222" stroke-width="0.8"/><rect x="228.60" y="243.60" width="4.8" height="4.8" fill="none" stroke="#222" stroke-width="0.8"/><rect x="267.80" y="270.70" width="4.8" height="4.8" fill="none" stroke="#222" stroke-width="0.8"/><rect x="309.80" y="290.60" width="4.8" height="4.8" fill="none" stroke="#222" stroke-width="0.8"/><rect x="343.70" y="302.70" width="4.8" height="4.8" fill="none" stroke="#222" stroke-width="0.8"/><rect x="374.80" y="311.00" width="4.8" height="4.8" fill="none" stroke="#222" stroke-width="0.8"/><rect x="393.40" y="316.00" width="4.8" height="4.8" fill="none" stroke="#222" stroke-width="0.8"/><rect x="408.00" y="317.60" width="4.8" height="4.8" fill="none" stroke="#222" stroke-width="0.8"/><rect x="424.00" y="318.90" width="4.8" height="4.8" fill="none" stroke="#222" stroke-width="0.8"/>
<rect x="330.7" y="129.4" width="5" height="5" fill="none" stroke="#000" stroke-width="1.2"/>
</svg></body></html>
